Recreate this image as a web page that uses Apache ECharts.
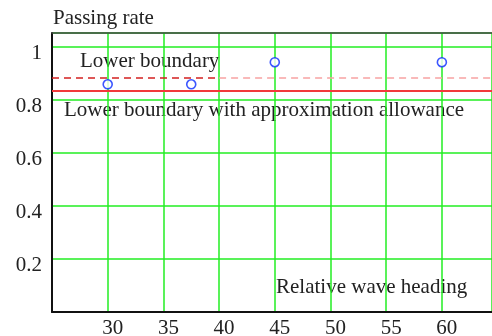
<!DOCTYPE html>
<html>
<head>
<meta charset="utf-8">
<script src="https://cdn.jsdelivr.net/npm/echarts@6/dist/echarts.min.js"></script>
<style>
  html, body { margin: 0; padding: 0; background: #fff; }
  #chart { width: 492px; height: 336px; }
</style>
</head>
<body>
<div id="chart"></div>
<script>
  // measured points (relative wave heading, passing rate)
  const headings = [30, 37.5, 45, 60];
  const passRates = [0.857, 0.857, 0.94, 0.94];
  // boundary lines
  const lowerBoundary = 0.881;
  const allowanceBoundary = 0.832;
  const xMin = 25, xMax = 64.5;
  const boundarySplit = 40;
  const xTicks = [30, 35, 40, 45, 50, 55, 60];
  const yTicks = [0.2, 0.4, 0.6, 0.8, 1];

  const font = 'Liberation Serif';
  const chart = echarts.init(document.getElementById('chart'));

  const options = {
    animation: false,
    grid: { left: 52, top: 33, right: 0, bottom: 24, outerBoundsMode: 'none', containLabel: false },
    xAxis: [
      {
        type: 'value',
        min: xMin,
        max: xMax,
        interval: 5,
        axisLine: { lineStyle: { color: '#111', width: 2 } },
        axisTick: { show: false },
        axisLabel: {
          fontFamily: font,
          fontSize: 21,
          color: '#222',
          margin: 6,
          padding: [0, 0, 0, 10],
          showMaxLabel: false,
          formatter: function(v) {
            return xTicks.indexOf(v) >= 0 ? String(v) : '';
          }
        },
        splitLine: { show: true, lineStyle: { color: '#22ee22', width: 1.5 } }
      },
      {
        type: 'value',
        position: 'top',
        min: xMin,
        max: xMax,
        axisLine: { show: true, onZero: false, lineStyle: { color: '#444', width: 1.5 } },
        axisTick: { show: false },
        axisLabel: { show: false },
        splitLine: { show: false }
      }
    ],
    yAxis: {
      type: 'value',
      min: 0,
      max: 1.05,
      interval: 0.2,
      axisLine: { show: true, lineStyle: { color: '#111', width: 2 } },
      axisTick: { show: false },
      axisLabel: {
        fontFamily: font,
        fontSize: 21,
        color: '#222',
        margin: 10,
        verticalAlign: 'top',
        lineHeight: 14,
        showMaxLabel: false,
        formatter: function(v) {
          let hit = yTicks.find((t) => Math.abs(t - v) < 1e-6);
          return hit === undefined ? '' : String(hit);
        }
      },
      splitLine: { show: true, lineStyle: { color: '#22ee22', width: 1.5 } }
    },
    series: [
      {
        type: 'line',
        symbol: 'none',
        data: [[xMin, lowerBoundary], [boundarySplit, lowerBoundary]],
        lineStyle: { color: '#d42020', width: 1.5, type: [7, 5] }
      },
      {
        type: 'line',
        symbol: 'none',
        data: [[boundarySplit, lowerBoundary], [xMax, lowerBoundary]],
        lineStyle: { color: '#f7a3a3', width: 1.5, type: [7, 5] }
      },
      {
        type: 'line',
        symbol: 'none',
        data: [[xMin, allowanceBoundary], [xMax, allowanceBoundary]],
        lineStyle: { color: '#f23a3a', width: 2 }
      },
      {
        type: 'scatter',
        symbol: 'circle',
        symbolSize: 9,
        data: headings.map((h, i) => [h, passRates[i]]),
        itemStyle: { color: '#fff', borderColor: '#0a2cff', borderWidth: 1.6 }
      }
    ],
    graphic: [
      { type: 'text', left: 53, top: 8, style: { text: 'Passing rate', font: '21px "Liberation Serif"', fill: '#222' } },
      { type: 'text', left: 80, top: 51, style: { text: 'Lower boundary', font: '21px "Liberation Serif"', fill: '#222' } },
      { type: 'text', left: 64, top: 100, style: { text: 'Lower boundary with approximation allowance', font: '21px "Liberation Serif"', fill: '#222' } },
      { type: 'text', left: 276, top: 277, style: { text: 'Relative wave heading', font: '21px "Liberation Serif"', fill: '#222' } }
    ]
  };
  chart.setOption(options);
</script>
</body>
</html>
